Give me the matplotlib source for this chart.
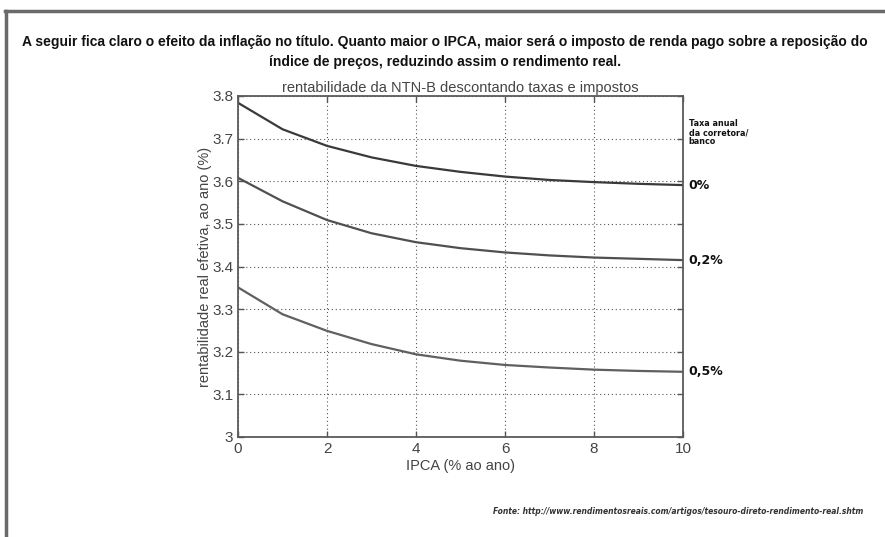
import matplotlib
matplotlib.use("Agg")
import matplotlib.pyplot as plt
from matplotlib.lines import Line2D

# IPCA (% ao ano) and effective real return for each broker fee
ipca = [0, 1, 2, 3, 4, 5, 6, 7, 8, 9, 10]
rent_0 = [3.784, 3.722, 3.683, 3.656, 3.636, 3.622, 3.611, 3.603, 3.598, 3.594, 3.591]
rent_02 = [3.608, 3.553, 3.509, 3.478, 3.457, 3.443, 3.433, 3.426, 3.421, 3.418, 3.415]
rent_05 = [3.351, 3.288, 3.249, 3.218, 3.194, 3.179, 3.169, 3.163, 3.158, 3.155, 3.153]
fee_labels = ["0%", "0,2%", "0,5%"]
line_colors = ["#3a3a3a", "#505050", "#606060"]

x_ticks = [0, 2, 4, 6, 8, 10]
y_ticks = [3, 3.1, 3.2, 3.3, 3.4, 3.5, 3.6, 3.7, 3.8]

header = ("A seguir fica claro o efeito da inflação no título. Quanto maior o IPCA, maior será o imposto de renda pago sobre a reposição do\n"
          "índice de preços, reduzindo assim o rendimento real.")
source = "Fonte: http://www.rendimentosreais.com/artigos/tesouro-direto-rendimento-real.shtm"

plt.rcParams["font.family"] = ["Liberation Sans", "DejaVu Sans"]

fig = plt.figure(figsize=(8.85, 5.37), dpi=100)
ax = fig.add_axes([238 / 885, 1 - 437 / 537, 445 / 885, 341 / 537])

for ys, c in zip([rent_0, rent_02, rent_05], line_colors):
    ax.plot(ipca, ys, color=c, lw=1.6, solid_joinstyle="miter")

ax.set_xlim(0, 10)
ax.set_ylim(3, 3.8)
ax.set_xticks(x_ticks)
ax.set_yticks(y_ticks)
ax.set_yticklabels([f"{v:g}" for v in y_ticks])
ax.grid(True, linestyle=(0, (1, 2.5)), color="#555555", lw=0.8)
ax.tick_params(direction="in", top=True, right=True, length=4, color="#555555",
               labelsize=11, labelcolor="#444444", width=1)
for s in ax.spines.values():
    s.set_color("#5a5a5a")
    s.set_linewidth(1.3)

ax.set_xlabel("IPCA (% ao ano)", fontsize=10.5, color="#444444", labelpad=2)
ax.set_ylabel("rentabilidade real efetiva, ao ano (%)", fontsize=10.5, color="#444444", labelpad=0)
ax.set_title("rentabilidade da NTN-B descontando taxas e impostos", fontsize=10.5,
             color="#444444", pad=3)

# labels at the right end of each curve
for ys, lab in zip([rent_0, rent_02, rent_05], fee_labels):
    ax.annotate(lab, xy=(1, ys[-1]), xycoords=("axes fraction", "data"),
                xytext=(4, 0), textcoords="offset points", va="center", ha="left",
                fontsize=9, fontweight="bold", family="DejaVu Sans", color="#111111")
ax.annotate("Taxa anual\nda corretora/\nbanco", xy=(1, 3.75), xycoords=("axes fraction", "data"),
            xytext=(4, -1), textcoords="offset points", va="top", ha="left",
            fontsize=5.8, fontweight="bold", family="DejaVu Sans", color="#111111",
            linespacing=1.05)

fig.text(445 / 885, 1 - 52 / 537, header, ha="center", va="center", fontsize=10,
         fontweight="bold", family=["Liberation Sans Narrow", "Liberation Sans"],
         color="#111111", linespacing=1.6)
fig.text(863 / 885, 1 - 511 / 537, source, ha="right", va="center", fontsize=5.5,
         style="italic", fontweight="bold", family="DejaVu Sans", color="#333333")

# frame around the slide (left and top edges)
fig.add_artist(Line2D([6 / 885, 6 / 885], [0, 1 - 11 / 537], color="#6a6a6a", lw=2.5,
                      transform=fig.transFigure))
fig.add_artist(Line2D([5 / 885, 1], [1 - 11 / 537, 1 - 11 / 537], color="#6a6a6a", lw=2.5,
                      transform=fig.transFigure))

fig.savefig("out.png", dpi=100, facecolor="white")
